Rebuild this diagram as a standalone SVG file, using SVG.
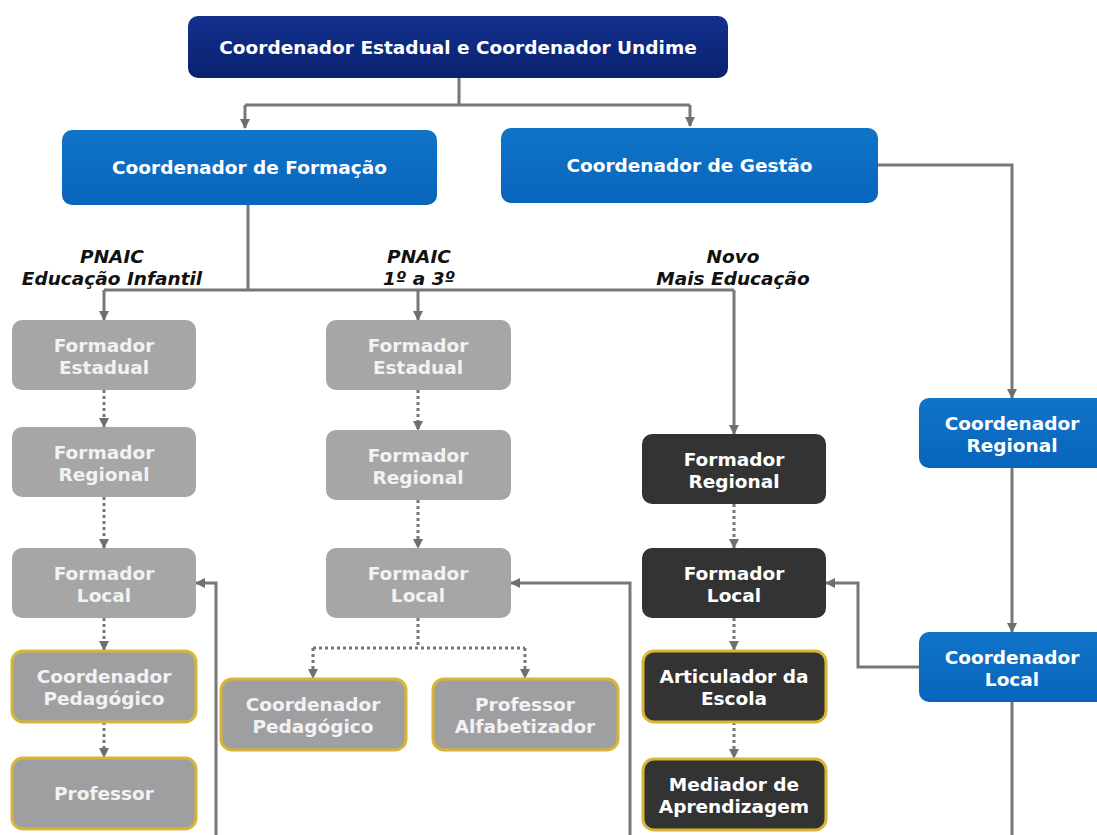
<svg xmlns="http://www.w3.org/2000/svg" width="1097" height="835" viewBox="0 0 1097 835">
<defs>
<linearGradient id="gNavy" x1="0" y1="0" x2="0" y2="1"><stop offset="0" stop-color="#12308e"/><stop offset="1" stop-color="#0a216e"/></linearGradient>
<linearGradient id="gBlue" x1="0" y1="0" x2="0" y2="1"><stop offset="0" stop-color="#1074c9"/><stop offset="1" stop-color="#0865bb"/></linearGradient>
<marker id="ah" viewBox="0 0 10 10" refX="9" refY="5" markerWidth="10" markerHeight="10" markerUnits="userSpaceOnUse" orient="auto"><path d="M0,0 L10,5 L0,10 z" fill="#6f6f6f"/></marker>
</defs>
<style>
.t{font-family:"DejaVu Sans",Verdana,sans-serif;font-weight:bold;font-size:18.5px;text-anchor:middle;fill:#ffffff}
.tg{fill:#f2f2f2}
.lab{font-family:"DejaVu Sans",Verdana,sans-serif;font-weight:bold;font-style:italic;font-size:18.5px;text-anchor:middle;fill:#111111}
.navy{fill:url(#gNavy)}
.blue{fill:url(#gBlue)}
.gray{fill:#a6a6a6}
.grayy{fill:#9f9fa2;stroke:#d8b534;stroke-width:3}
.dark{fill:#333333}
.darky{fill:#333333;stroke:#d8b534;stroke-width:3}
.c{fill:none;stroke:#777777;stroke-width:3}
.d{fill:none;stroke:#777777;stroke-width:3;stroke-dasharray:3 3}
</style>
<rect width="1097" height="835" fill="#ffffff"/>

<g id="connectors">
<path class="c" d="M459,78 V105 M245,105 H690" />
<path class="c" d="M245,105 V128" marker-end="url(#ah)"/>
<path class="c" d="M690,105 V126" marker-end="url(#ah)"/>
<path class="c" d="M248,205 V290 M104,290 H734"/>
<path class="c" d="M104,290 V320" marker-end="url(#ah)"/>
<path class="c" d="M418,290 V320" marker-end="url(#ah)"/>
<path class="c" d="M734,290 V434" marker-end="url(#ah)"/>
<path class="c" d="M878,165 H1012 V398" marker-end="url(#ah)"/>
<path class="c" d="M1012,468 V632" marker-end="url(#ah)"/>
<path class="c" d="M1012,702 V835"/>
<path class="c" d="M919,667 H858 V583 H826" marker-end="url(#ah)"/>
<path class="c" d="M216,835 V583 H196" marker-end="url(#ah)"/>
<path class="c" d="M630,835 V583 H511" marker-end="url(#ah)"/>
<path class="d" d="M104,390 V427" marker-end="url(#ah)"/>
<path class="d" d="M104,497 V548" marker-end="url(#ah)"/>
<path class="d" d="M104,618 V650" marker-end="url(#ah)"/>
<path class="d" d="M104,722 V757" marker-end="url(#ah)"/>
<path class="d" d="M418,390 V430" marker-end="url(#ah)"/>
<path class="d" d="M418,500 V548" marker-end="url(#ah)"/>
<path class="d" d="M418,618 V648 M313,648 H525"/>
<path class="d" d="M313,648 V678" marker-end="url(#ah)"/>
<path class="d" d="M525,648 V678" marker-end="url(#ah)"/>
<path class="d" d="M734,504 V548" marker-end="url(#ah)"/>
<path class="d" d="M734,618 V650" marker-end="url(#ah)"/>
<path class="d" d="M734,722 V758" marker-end="url(#ah)"/>
</g>

<g id="labels">
<text class="lab" x="112" y="263">PNAIC</text>
<text class="lab" x="112" y="285">Educação Infantil</text>
<text class="lab" x="419" y="263">PNAIC</text>
<text class="lab" x="419" y="285">1º a 3º</text>
<text class="lab" x="733" y="263">Novo</text>
<text class="lab" x="733" y="285">Mais Educação</text>
</g>

<g id="n-top"><rect class="navy" x="188" y="16" width="540" height="62" rx="10"/><text class="t" x="458" y="54">Coordenador Estadual e Coordenador Undime</text></g>
<g id="n-formacao"><rect class="blue" x="62" y="130" width="375" height="75" rx="10"/><text class="t" x="249.5" y="174">Coordenador de Formação</text></g>
<g id="n-gestao"><rect class="blue" x="501" y="128" width="377" height="75" rx="10"/><text class="t" x="689.5" y="172">Coordenador de Gestão</text></g>

<g id="n-ei-estadual"><rect class="gray" x="12" y="320" width="184" height="70" rx="10"/><text class="t tg" x="104" y="352">Formador</text><text class="t tg" x="104" y="374">Estadual</text></g>
<g id="n-ei-regional"><rect class="gray" x="12" y="427" width="184" height="70" rx="10"/><text class="t tg" x="104" y="459">Formador</text><text class="t tg" x="104" y="481">Regional</text></g>
<g id="n-ei-local"><rect class="gray" x="12" y="548" width="184" height="70" rx="10"/><text class="t tg" x="104" y="580">Formador</text><text class="t tg" x="104" y="602">Local</text></g>
<g id="n-ei-coord"><rect class="grayy" x="12" y="651" width="184" height="71" rx="11"/><text class="t tg" x="104" y="683">Coordenador</text><text class="t tg" x="104" y="705">Pedagógico</text></g>
<g id="n-ei-prof"><rect class="grayy" x="12" y="758" width="184" height="71" rx="11"/><text class="t tg" x="104" y="800">Professor</text></g>

<g id="n-p-estadual"><rect class="gray" x="326" y="320" width="185" height="70" rx="10"/><text class="t tg" x="418" y="352">Formador</text><text class="t tg" x="418" y="374">Estadual</text></g>
<g id="n-p-regional"><rect class="gray" x="326" y="430" width="185" height="70" rx="10"/><text class="t tg" x="418" y="462">Formador</text><text class="t tg" x="418" y="484">Regional</text></g>
<g id="n-p-local"><rect class="gray" x="326" y="548" width="185" height="70" rx="10"/><text class="t tg" x="418" y="580">Formador</text><text class="t tg" x="418" y="602">Local</text></g>
<g id="n-p-coord"><rect class="grayy" x="221" y="679" width="185" height="71" rx="11"/><text class="t tg" x="313" y="711">Coordenador</text><text class="t tg" x="313" y="733">Pedagógico</text></g>
<g id="n-p-prof"><rect class="grayy" x="433" y="679" width="185" height="71" rx="11"/><text class="t tg" x="525" y="711">Professor</text><text class="t tg" x="525" y="733">Alfabetizador</text></g>

<g id="n-m-regional"><rect class="dark" x="642" y="434" width="184" height="70" rx="10"/><text class="t" x="734" y="466">Formador</text><text class="t" x="734" y="488">Regional</text></g>
<g id="n-m-local"><rect class="dark" x="642" y="548" width="184" height="70" rx="10"/><text class="t" x="734" y="580">Formador</text><text class="t" x="734" y="602">Local</text></g>
<g id="n-m-artic"><rect class="darky" x="643" y="651" width="183" height="71" rx="11"/><text class="t" x="734" y="683">Articulador da</text><text class="t" x="734" y="705">Escola</text></g>
<g id="n-m-mediador"><rect class="darky" x="643" y="759" width="183" height="71" rx="11"/><text class="t" x="734" y="791">Mediador de</text><text class="t" x="734" y="813">Aprendizagem</text></g>

<g id="n-c-regional"><rect class="blue" x="919" y="398" width="190" height="70" rx="10"/><text class="t" x="1012" y="430">Coordenador</text><text class="t" x="1012" y="452">Regional</text></g>
<g id="n-c-local"><rect class="blue" x="919" y="632" width="190" height="70" rx="10"/><text class="t" x="1012" y="664">Coordenador</text><text class="t" x="1012" y="686">Local</text></g>
</svg>
